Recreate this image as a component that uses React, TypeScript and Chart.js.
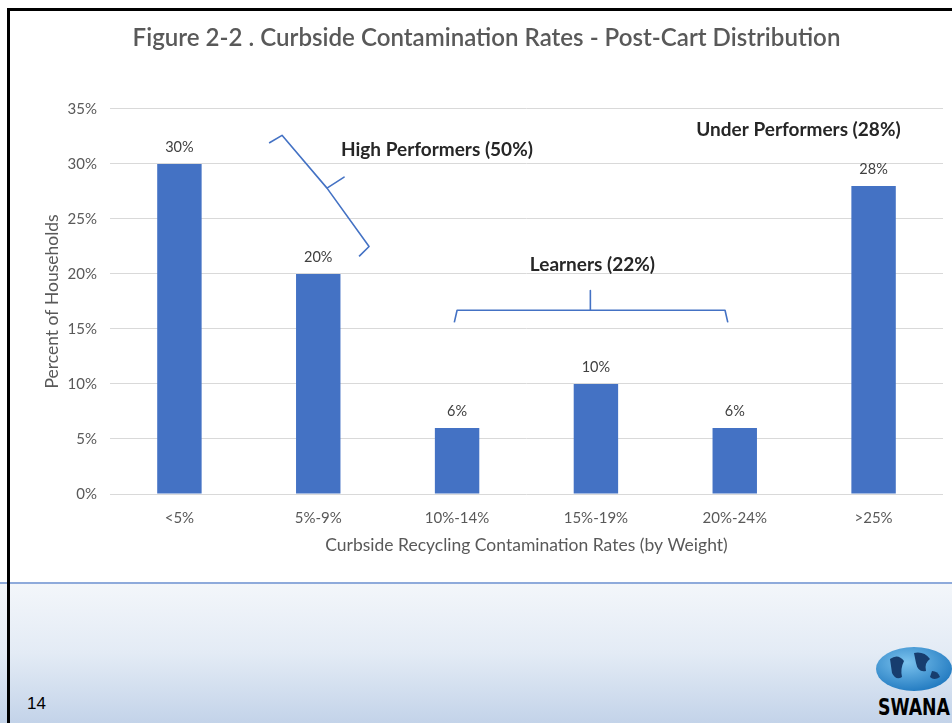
import { useEffect, useRef } from "react";
import { Chart, registerables } from "chart.js";

Chart.register(...registerables);

const chartTitle = "Figure 2-2 . Curbside Contamination Rates - Post-Cart Distribution";
const categories = ["<5%", "5%-9%", "10%-14%", "15%-19%", "20%-24%", ">25%"];
const households = [30, 20, 6, 10, 6, 28];
const yAxisTitle = "Percent of Households";
const xAxisTitle = "Curbside Recycling Contamination Rates (by Weight)";
const groupNames = ["High Performers (50%)", "Learners (22%)", "Under Performers (28%)"];
const pageNumber = "14";

const FONT = "Lato, 'Open Sans', sans-serif";
const BLUE = "#4472C4";

// annotation anchors in data space (category index, percent)
const groupLabelAnchors = [
  { x: 1.855, y: 31.27 },
  { x: 2.975, y: 20.8 },
  { x: 4.459, y: 33.09 },
];
const highBrace = [
  [0.646, 31.9],
  [0.739, 32.6],
  [1.063, 27.8],
  [1.186, 28.8],
  [1.063, 27.8],
  [1.366, 22.5],
  [1.294, 21.6],
];
const learnerBrace = [
  [1.98, 15.6],
  [2.0, 16.7],
  [2.96, 16.7],
  [2.96, 18.5],
  [2.96, 16.7],
  [3.93, 16.7],
  [3.95, 15.6],
];

const labelsPlugin = {
  id: "valueLabels",
  afterDatasetsDraw(chart: any) {
    const ctx = chart.ctx;
    const meta = chart.getDatasetMeta(0);
    ctx.save();
    ctx.font = `14.5px ${FONT}`;
    ctx.fillStyle = "#404040";
    ctx.textAlign = "center";
    ctx.textBaseline = "middle";
    meta.data.forEach((bar: any, i: number) => {
      ctx.fillText(households[i] + "%", bar.x, bar.y - 17);
    });
    ctx.restore();
  },
};

const annotationPlugin = {
  id: "groupAnnotations",
  afterDraw(chart: any) {
    const ctx = chart.ctx;
    const xs = chart.scales.x;
    const ys = chart.scales.y;
    const px = (v: number) => xs.getPixelForValue(v);
    const py = (v: number) => ys.getPixelForValue(v);
    ctx.save();
    ctx.strokeStyle = BLUE;
    ctx.lineWidth = 1.6;
    ctx.lineJoin = "round";
    [highBrace, learnerBrace].forEach((pts) => {
      ctx.beginPath();
      pts.forEach((p, i) => {
        if (i === 0) ctx.moveTo(px(p[0]), py(p[1]));
        else ctx.lineTo(px(p[0]), py(p[1]));
      });
      ctx.stroke();
    });
    ctx.font = `bold 19px ${FONT}`;
    ctx.fillStyle = "#262626";
    ctx.textAlign = "center";
    ctx.textBaseline = "middle";
    groupNames.forEach((name, i) => {
      ctx.fillText(name, px(groupLabelAnchors[i].x), py(groupLabelAnchors[i].y));
    });
    ctx.restore();
  },
};

function ChartCanvas() {
  const ref = useRef<HTMLCanvasElement | null>(null);
  useEffect(() => {
    if (!ref.current) return;
    const chart = new Chart(ref.current, {
      type: "bar",
      data: {
        labels: categories,
        datasets: [
          {
            data: households,
            backgroundColor: BLUE,
            barPercentage: 0.32,
            categoryPercentage: 1,
          },
        ],
      },
      options: {
        responsive: false,
        maintainAspectRatio: false,
        animation: false,
        layout: { padding: { left: 30, right: 9, top: 0, bottom: 0 } },
        plugins: {
          legend: { display: false },
          tooltip: { enabled: false },
          title: {
            display: true,
            text: chartTitle,
            color: "#595959",
            font: { family: FONT, size: 24.1, weight: "600" },
            padding: { top: 24, bottom: 56 },
          },
        },
        scales: {
          x: {
            afterFit: (s: any) => {
              s.height = 88;
            },
            grid: { display: false, drawTicks: false },
            border: { display: false },
            ticks: {
              color: "#595959",
              font: { family: FONT, size: 15 },
              padding: 15,
              maxRotation: 0,
            },
            title: {
              display: true,
              text: xAxisTitle,
              color: "#595959",
              font: { family: FONT, size: 17.5 },
              padding: { top: 0, bottom: 26.5 },
            },
          },
          y: {
            min: 0,
            max: 35,
            afterFit: (s: any) => {
              s.width = 80;
            },
            grid: { color: "#d9d9d9", drawTicks: false },
            border: { display: false },
            ticks: {
              stepSize: 5,
              color: "#595959",
              font: { family: FONT, size: 15 },
              padding: 13,
              callback: (v: any) => v + "%",
            },
            title: {
              display: true,
              text: yAxisTitle,
              color: "#595959",
              font: { family: FONT, size: 17.5 },
              padding: { top: 11.5, bottom: 0 },
            },
          },
        },
      },
      plugins: [labelsPlugin, annotationPlugin],
    });
    return () => chart.destroy();
  }, []);
  return <canvas ref={ref} width={952} height={582} style={{ display: "block", width: 952, height: 582 }} />;
}

export default function App() {
  return (
    <div style={{ position: "absolute", left: 0, top: 0, width: 952, height: 723, overflow: "hidden", background: "#fff" }}>
      <div style={{ position: "absolute", left: 0, top: 0 }}>
        <ChartCanvas />
      </div>
      <div style={{ position: "absolute", left: 0, top: 582, width: 952, height: 2, background: "#8eaadb" }} />
      <div
        style={{
          position: "absolute",
          left: 0,
          top: 584,
          width: 952,
          height: 139,
          background: "linear-gradient(180deg, #f3f6fa 0%, #e3ebf5 50%, #c3d3e9 100%)",
        }}
      />
      <div style={{ position: "absolute", left: 7, top: 8, width: 945, height: 3, background: "#000" }} />
      <div style={{ position: "absolute", left: 7, top: 8, width: 3, height: 715, background: "#000" }} />
      <div
        style={{
          position: "absolute",
          left: 27,
          top: 694,
          fontFamily: "'Liberation Sans', Arial, sans-serif",
          fontSize: 17,
          color: "#000",
          lineHeight: "20px",
        }}
      >
        {pageNumber}
      </div>
      <svg style={{ position: "absolute", left: 868, top: 643 }} width={84} height={77}>
        <defs>
          <radialGradient id="globe" cx="40%" cy="35%" r="70%">
            <stop offset="0%" stopColor="#7cc3ee" />
            <stop offset="100%" stopColor="#1f78bf" />
          </radialGradient>
        </defs>
        <ellipse cx={46} cy={26} rx={38} ry={22} fill="url(#globe)" />
        <path d="M22 16 q8 -6 14 2 q-4 8 -2 16 q-6 4 -10 -4 z" fill="#173d6e" />
        <path d="M46 10 q10 -2 16 6 q-6 4 -4 12 q-8 2 -10 -8 z" fill="#173d6e" />
        <path d="M64 28 q6 0 8 6 q-6 4 -10 0 z" fill="#173d6e" />
        <text
          x={82}
          y={72}
          textAnchor="end"
          fontFamily="'Liberation Sans Narrow', 'DejaVu Sans Condensed', sans-serif"
          fontWeight="bold"
          fontSize={23}
          fill="#000"
          textLength={72}
          lengthAdjust="spacingAndGlyphs"
        >
          SWANA
        </text>
      </svg>
    </div>
  );
}
